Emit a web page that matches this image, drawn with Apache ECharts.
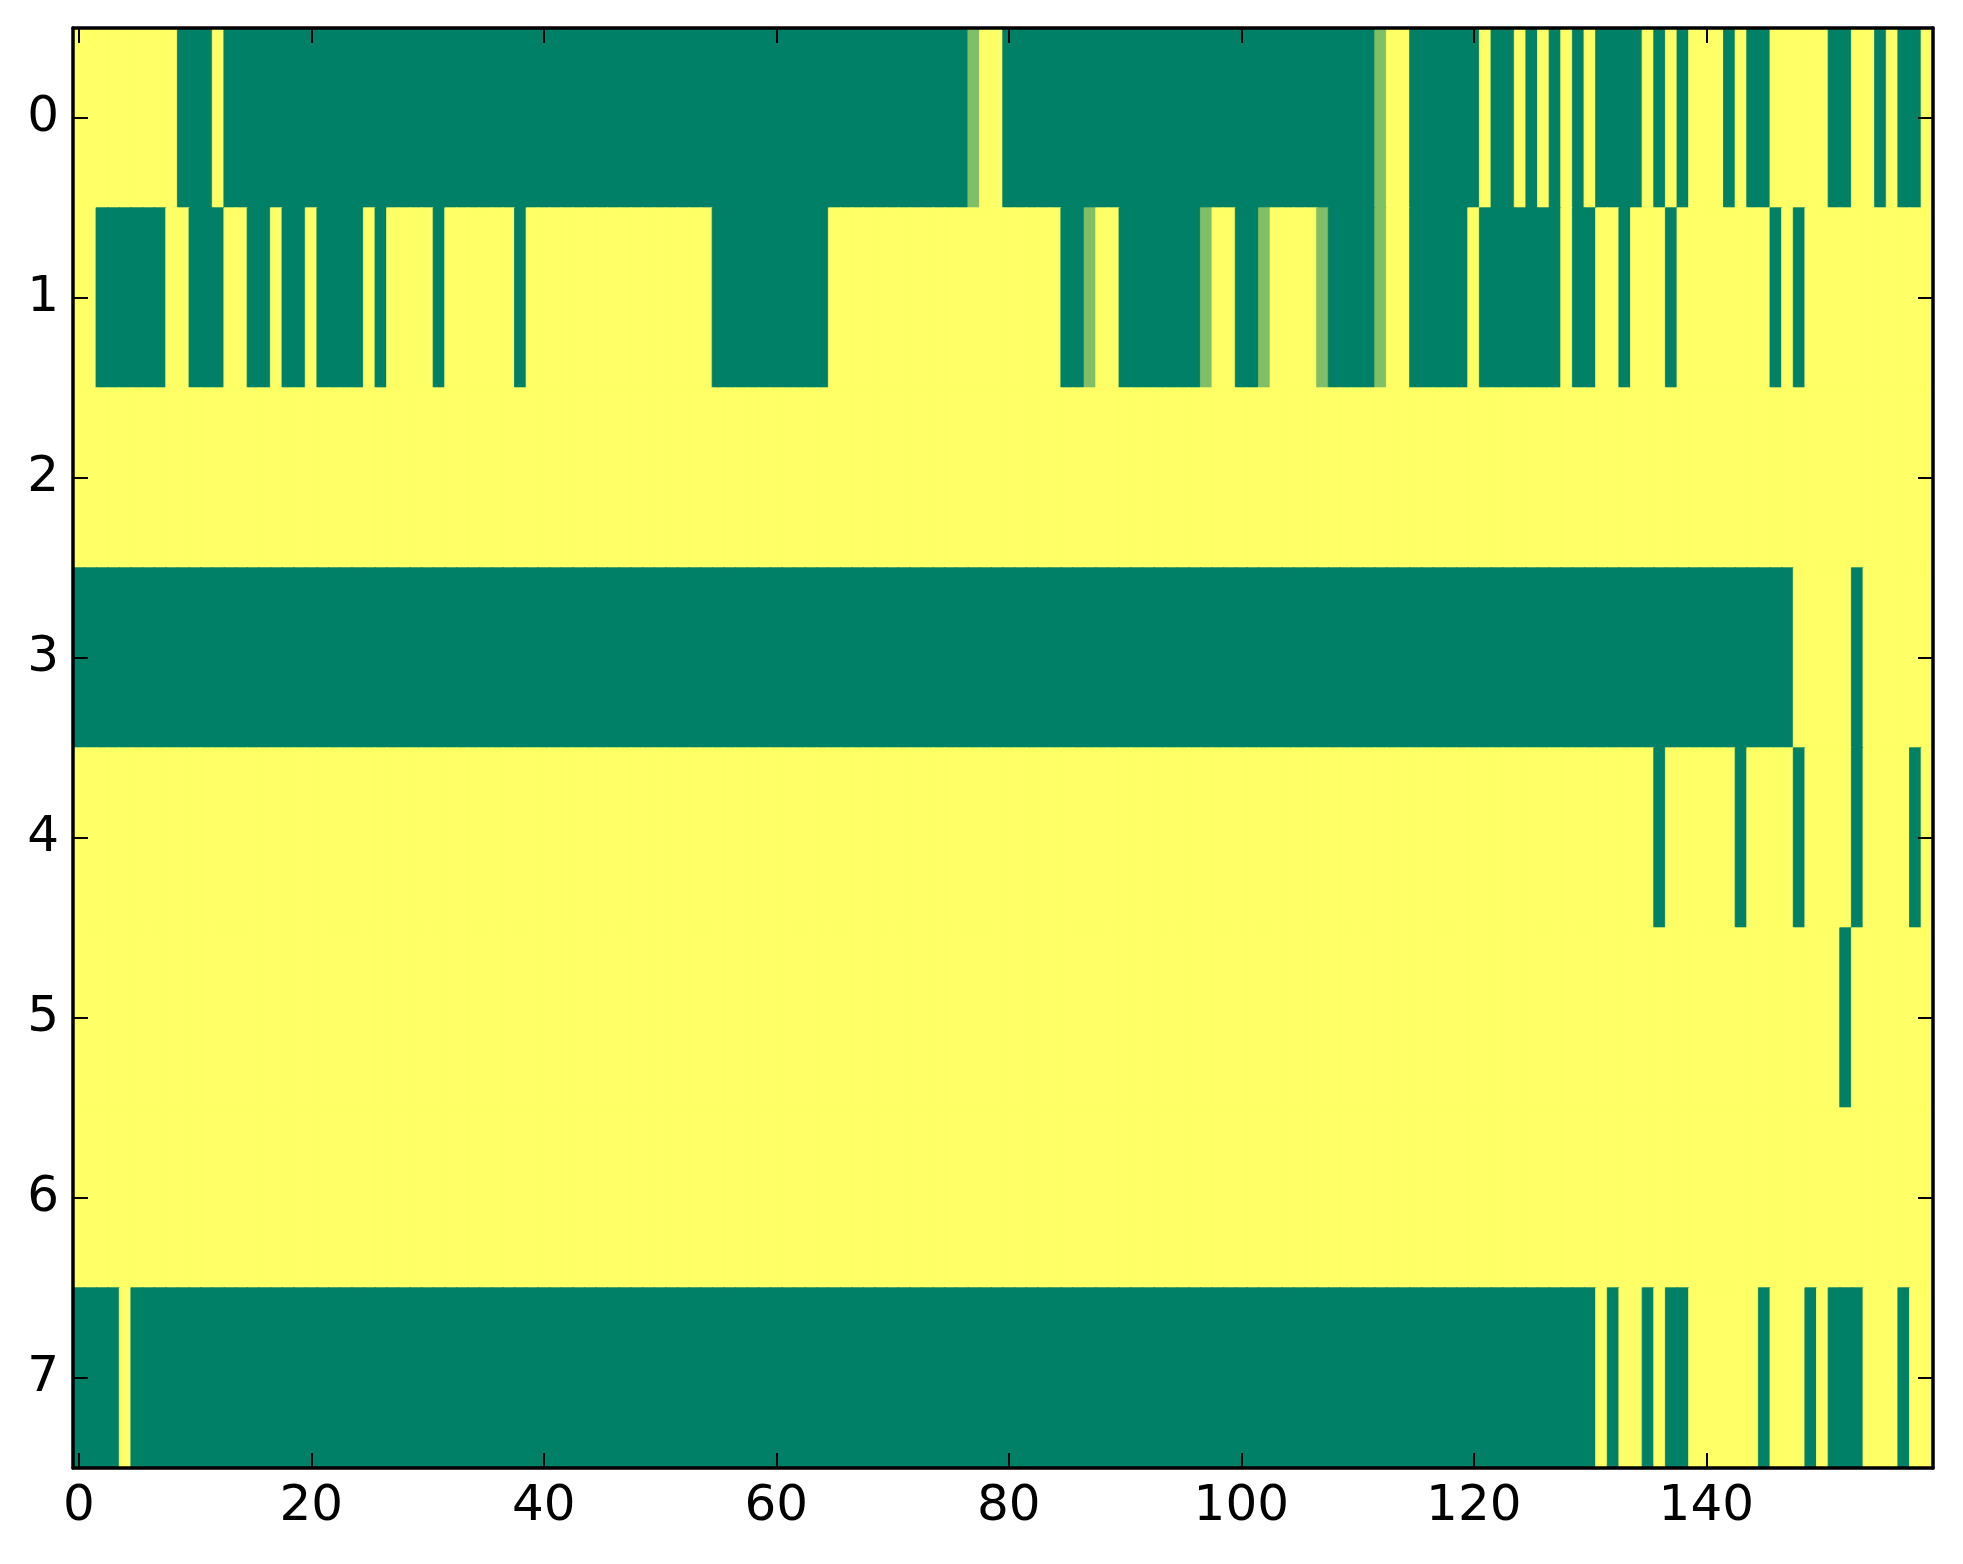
<!DOCTYPE html>
<html>
<head>
<meta charset="utf-8">
<script src="https://cdn.jsdelivr.net/npm/echarts@6/dist/echarts.min.js"></script>
<style>
    html, body { margin: 0; padding: 0; background: #fff; }
    #main { width: 1963px; height: 1564px; }
</style>
</head>
<body>
<div id="main"></div>
<script>
// rows of the picture, top to bottom (1 = yellow, 0 = green, 0.5 = in between)
var row0 = [
    1,1,1,1,1,1,1,1,1,0, 0,0,1,0,0,0,0,0,0,0,
    0,0,0,0,0,0,0,0,0,0, 0,0,0,0,0,0,0,0,0,0,
    0,0,0,0,0,0,0,0,0,0, 0,0,0,0,0,0,0,0,0,0,
    0,0,0,0,0,0,0,0,0,0, 0,0,0,0,0,0,0,0.5,1,1,
    0,0,0,0,0,0,0,0,0,0, 0,0,0,0,0,0,0,0,0,0,
    0,0,0,0,0,0,0,0,0,0, 0,0,0.5,1,1,0,0,0,0,0,
    0,1,0,0,1,0,1,0,1,0, 1,0,0,0,0,1,0,1,0,1,
    1,1,0,1,0,0,1,1,1,1, 1,0,0,1,1,0,1,0,0,1
];
var row1 = [
    1,1,0,0,0,0,0,0,1,1, 0,0,0,1,1,0,0,1,0,0,
    1,0,0,0,0,1,0,1,1,1, 1,0,1,1,1,1,1,1,0,1,
    1,1,1,1,1,1,1,1,1,1, 1,1,1,1,1,0,0,0,0,0,
    0,0,0,0,0,1,1,1,1,1, 1,1,1,1,1,1,1,1,1,1,
    1,1,1,1,1,0,0,0.5,1,1, 0,0,0,0,0,0,0,0.5,1,1,
    0,0,0.5,1,1,1,1,0.5,0,0, 0,0,0.5,1,1,0,0,0,0,0,
    1,0,0,0,0,0,0,0,1,0, 0,1,1,0,1,1,1,0,1,1,
    1,1,1,1,1,1,0,1,0,1, 1,1,1,1,1,1,1,1,1,1
];
var row2 = [
    1,1,1,1,1,1,1,1,1,1, 1,1,1,1,1,1,1,1,1,1,
    1,1,1,1,1,1,1,1,1,1, 1,1,1,1,1,1,1,1,1,1,
    1,1,1,1,1,1,1,1,1,1, 1,1,1,1,1,1,1,1,1,1,
    1,1,1,1,1,1,1,1,1,1, 1,1,1,1,1,1,1,1,1,1,
    1,1,1,1,1,1,1,1,1,1, 1,1,1,1,1,1,1,1,1,1,
    1,1,1,1,1,1,1,1,1,1, 1,1,1,1,1,1,1,1,1,1,
    1,1,1,1,1,1,1,1,1,1, 1,1,1,1,1,1,1,1,1,1,
    1,1,1,1,1,1,1,1,1,1, 1,1,1,1,1,1,1,1,1,1
];
var row3 = [
    0,0,0,0,0,0,0,0,0,0, 0,0,0,0,0,0,0,0,0,0,
    0,0,0,0,0,0,0,0,0,0, 0,0,0,0,0,0,0,0,0,0,
    0,0,0,0,0,0,0,0,0,0, 0,0,0,0,0,0,0,0,0,0,
    0,0,0,0,0,0,0,0,0,0, 0,0,0,0,0,0,0,0,0,0,
    0,0,0,0,0,0,0,0,0,0, 0,0,0,0,0,0,0,0,0,0,
    0,0,0,0,0,0,0,0,0,0, 0,0,0,0,0,0,0,0,0,0,
    0,0,0,0,0,0,0,0,0,0, 0,0,0,0,0,0,0,0,0,0,
    0,0,0,0,0,0,0,0,1,1, 1,1,1,0,1,1,1,1,1,1
];
var row4 = [
    1,1,1,1,1,1,1,1,1,1, 1,1,1,1,1,1,1,1,1,1,
    1,1,1,1,1,1,1,1,1,1, 1,1,1,1,1,1,1,1,1,1,
    1,1,1,1,1,1,1,1,1,1, 1,1,1,1,1,1,1,1,1,1,
    1,1,1,1,1,1,1,1,1,1, 1,1,1,1,1,1,1,1,1,1,
    1,1,1,1,1,1,1,1,1,1, 1,1,1,1,1,1,1,1,1,1,
    1,1,1,1,1,1,1,1,1,1, 1,1,1,1,1,1,1,1,1,1,
    1,1,1,1,1,1,1,1,1,1, 1,1,1,1,1,1,0,1,1,1,
    1,1,1,0,1,1,1,1,0,1, 1,1,1,0,1,1,1,1,0,1
];
var row5 = [
    1,1,1,1,1,1,1,1,1,1, 1,1,1,1,1,1,1,1,1,1,
    1,1,1,1,1,1,1,1,1,1, 1,1,1,1,1,1,1,1,1,1,
    1,1,1,1,1,1,1,1,1,1, 1,1,1,1,1,1,1,1,1,1,
    1,1,1,1,1,1,1,1,1,1, 1,1,1,1,1,1,1,1,1,1,
    1,1,1,1,1,1,1,1,1,1, 1,1,1,1,1,1,1,1,1,1,
    1,1,1,1,1,1,1,1,1,1, 1,1,1,1,1,1,1,1,1,1,
    1,1,1,1,1,1,1,1,1,1, 1,1,1,1,1,1,1,1,1,1,
    1,1,1,1,1,1,1,1,1,1, 1,1,0,1,1,1,1,1,1,1
];
var row6 = [
    1,1,1,1,1,1,1,1,1,1, 1,1,1,1,1,1,1,1,1,1,
    1,1,1,1,1,1,1,1,1,1, 1,1,1,1,1,1,1,1,1,1,
    1,1,1,1,1,1,1,1,1,1, 1,1,1,1,1,1,1,1,1,1,
    1,1,1,1,1,1,1,1,1,1, 1,1,1,1,1,1,1,1,1,1,
    1,1,1,1,1,1,1,1,1,1, 1,1,1,1,1,1,1,1,1,1,
    1,1,1,1,1,1,1,1,1,1, 1,1,1,1,1,1,1,1,1,1,
    1,1,1,1,1,1,1,1,1,1, 1,1,1,1,1,1,1,1,1,1,
    1,1,1,1,1,1,1,1,1,1, 1,1,1,1,1,1,1,1,1,1
];
var row7 = [
    0,0,0,0,1,0,0,0,0,0, 0,0,0,0,0,0,0,0,0,0,
    0,0,0,0,0,0,0,0,0,0, 0,0,0,0,0,0,0,0,0,0,
    0,0,0,0,0,0,0,0,0,0, 0,0,0,0,0,0,0,0,0,0,
    0,0,0,0,0,0,0,0,0,0, 0,0,0,0,0,0,0,0,0,0,
    0,0,0,0,0,0,0,0,0,0, 0,0,0,0,0,0,0,0,0,0,
    0,0,0,0,0,0,0,0,0,0, 0,0,0,0,0,0,0,0,0,0,
    0,0,0,0,0,0,0,0,0,0, 0,1,0,1,1,0,1,0,0,1,
    1,1,1,1,1,0,1,1,1,0, 1,0,0,0,1,1,1,0,1,1
];
var rows = [row0, row1, row2, row3, row4, row5, row6, row7];

// tick labels
var yCats = ['0', '1', '2', '3', '4', '5', '6', '7'];
var xTickLabels = [0, 20, 40, 60, 80, 100, 120, 140];

buildChart();

// summer colormap: 0 -> green, 1 -> yellow
function summer(v){
    var r = Math.round(255 * v);
    var g = Math.round(255 * (0.5 + 0.5 * v));
    return 'rgb(' + r + ',' + g + ',102)';
}

function buildChart(){
    var chart = echarts.init(document.getElementById('main'), null, {renderer: 'canvas'});

    // one category per column
    var xCats = [];
    for (var i = 0; i < row0.length; i++) {
        xCats.push(String(i));
    }

    // border in the same colour hides the seams between cells
    var cells = [];
    rows.forEach(function(r, y){
        r.forEach(function(v, x){
            var c = summer(v);
            cells.push({
                value: [x, y, v],
                itemStyle: {color: c, borderColor: c, borderWidth: 0.8}
            });
        });
    });

    var font = 'DejaVu Sans';
    var showX = function(idx){ return xTickLabels.indexOf(idx) >= 0; };

    var line = {show: true, onZero: false, lineStyle: {color: '#000', width: 3.5}};
    var tick = {show: true, inside: true, length: 15, alignWithLabel: true, lineStyle: {color: '#000', width: 2}};

    function xAxis(pos, labels){
        return {
            type: 'category',
            position: pos,
            z: 10,
            data: xCats,
            axisLine: line,
            axisTick: Object.assign({}, tick, {interval: showX}),
            axisLabel: {
                show: labels,
                interval: showX,
                margin: 14,
                color: '#000',
                fontSize: 50,
                fontFamily: font
            },
            splitLine: {show: false}
        };
    }

    function yAxis(pos, labels){
        return {
            type: 'category',
            position: pos,
            z: 10,
            inverse: true,
            data: yCats,
            axisLine: line,
            axisTick: Object.assign({}, tick, {interval: 0}),
            axisLabel: {
                show: labels,
                interval: 0,
                margin: 14,
                color: '#000',
                fontSize: 50,
                fontFamily: font
            },
            splitLine: {show: false}
        };
    }

    var option = {
        animation: false,
        backgroundColor: '#fff',
        grid: {left: 73, right: 30, top: 28, bottom: 96, containLabel: false},
        xAxis: [xAxis('bottom', true), xAxis('top', false)],
        yAxis: [yAxis('left', true), yAxis('right', false)],
        series: [{
            type: 'heatmap',
            xAxisIndex: 0,
            yAxisIndex: 0,
            z: 1,
            data: cells,
            progressive: 0,
            emphasis: {disabled: true}
        }]
    };

    chart.setOption(option);
}
</script>
</body>
</html>
